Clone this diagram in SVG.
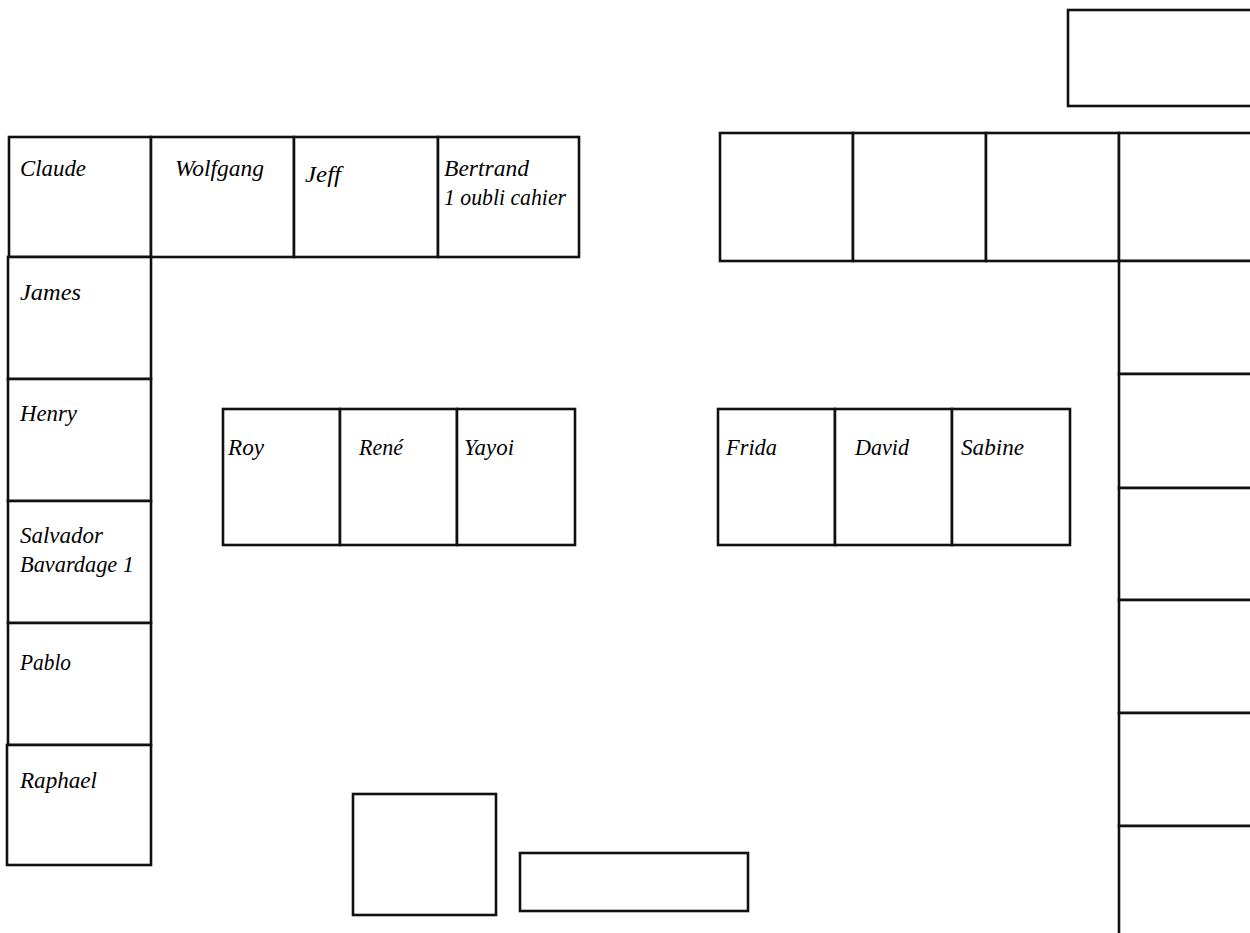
<svg xmlns="http://www.w3.org/2000/svg" width="1250" height="933" viewBox="0 0 1250 933">
<style>
rect{fill:#fff;stroke:#111;stroke-width:2.6}
text{font-family:"Liberation Serif",serif;font-style:italic;font-size:24px;fill:#000}
</style>
<g id="top-right"><rect x="1068" y="10" width="190" height="96"/></g>
<g id="claude"><rect x="9" y="137" width="142" height="120"/><text x="20" y="176" textLength="66" lengthAdjust="spacingAndGlyphs">Claude</text></g>
<g id="wolfgang"><rect x="151" y="137" width="143" height="120"/><text x="175" y="176" textLength="89" lengthAdjust="spacingAndGlyphs">Wolfgang</text></g>
<g id="jeff"><rect x="294" y="137" width="144" height="120"/><text x="305" y="182" textLength="36" lengthAdjust="spacingAndGlyphs">Jeff</text></g>
<g id="bertrand"><rect x="438" y="137" width="141" height="120"/><text x="444" y="176" textLength="85" lengthAdjust="spacingAndGlyphs">Bertrand</text><text x="444" y="205" textLength="122" lengthAdjust="spacingAndGlyphs">1 oubli cahier</text></g>
<g id="james"><rect x="8" y="257" width="143" height="122"/><text x="20" y="300" textLength="61" lengthAdjust="spacingAndGlyphs">James</text></g>
<g id="henry"><rect x="8" y="379" width="143" height="122"/><text x="20" y="421" textLength="57" lengthAdjust="spacingAndGlyphs">Henry</text></g>
<g id="salvador"><rect x="8" y="501" width="143" height="122"/><text x="20" y="543" textLength="83" lengthAdjust="spacingAndGlyphs">Salvador</text><text x="20" y="572" textLength="114" lengthAdjust="spacingAndGlyphs">Bavardage 1</text></g>
<g id="pablo"><rect x="8" y="623" width="143" height="122"/><text x="20" y="670" textLength="51" lengthAdjust="spacingAndGlyphs">Pablo</text></g>
<g id="raphael"><rect x="7" y="745" width="144" height="120"/><text x="20" y="788" textLength="77" lengthAdjust="spacingAndGlyphs">Raphael</text></g>
<g id="roy"><rect x="223" y="409" width="117" height="136"/><text x="228" y="455" textLength="36" lengthAdjust="spacingAndGlyphs">Roy</text></g>
<g id="rene"><rect x="340" y="409" width="117" height="136"/><text x="359" y="455" textLength="44" lengthAdjust="spacingAndGlyphs">René</text></g>
<g id="yayoi"><rect x="457" y="409" width="118" height="136"/><text x="464" y="455" textLength="50" lengthAdjust="spacingAndGlyphs">Yayoi</text></g>
<g id="frida"><rect x="718" y="409" width="117" height="136"/><text x="726" y="455" textLength="51" lengthAdjust="spacingAndGlyphs">Frida</text></g>
<g id="david"><rect x="835" y="409" width="117" height="136"/><text x="855" y="455" textLength="54" lengthAdjust="spacingAndGlyphs">David</text></g>
<g id="sabine"><rect x="952" y="409" width="118" height="136"/><text x="961" y="455" textLength="63" lengthAdjust="spacingAndGlyphs">Sabine</text></g>
<g id="r1"><rect x="720" y="133" width="133" height="128"/></g>
<g id="r2"><rect x="853" y="133" width="133" height="128"/></g>
<g id="r3"><rect x="986" y="133" width="133" height="128"/></g>
<g id="r4"><rect x="1119" y="133" width="140" height="128"/></g>
<g id="r5"><rect x="1119" y="261" width="140" height="113"/></g>
<g id="r6"><rect x="1119" y="374" width="140" height="114"/></g>
<g id="r7"><rect x="1119" y="488" width="140" height="112"/></g>
<g id="r8"><rect x="1119" y="600" width="140" height="113"/></g>
<g id="r9"><rect x="1119" y="713" width="140" height="113"/></g>
<g id="r10"><rect x="1119" y="826" width="140" height="120"/></g>
<g id="desk"><rect x="353" y="794" width="143" height="121"/></g>
<g id="board"><rect x="520" y="853" width="228" height="58"/></g>
</svg>
